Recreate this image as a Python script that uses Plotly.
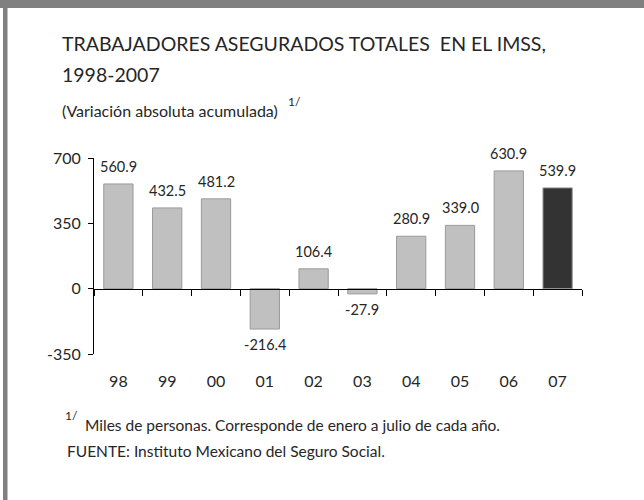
import plotly.graph_objects as go

categories = ["98", "99", "00", "01", "02", "03", "04", "05", "06", "07"]
values = [560.9, 432.5, 481.2, -216.4, 106.4, -27.9, 280.9, 339.0, 630.9, 539.9]
value_labels = ["560.9", "432.5", "481.2", "-216.4", "106.4", "-27.9", "280.9", "339.0", "630.9", "539.9"]
y_ticks = [-350, 0, 350, 700]

title_line1 = "TRABAJADORES ASEGURADOS TOTALES  EN EL IMSS,"
title_line2 = "1998-2007"
subtitle = "(Variación absoluta acumulada)"
note_mark = "1/"
footnote = "Miles de personas. Corresponde de enero a julio de cada año."
source = "FUENTE: Instituto Mexicano del Seguro Social."

W, H = 644, 500
L, R, T, B = 94, 62, 158, 146
pw, ph = W - L - R, H - T - B

def px(x):
    return (x - L) / pw

def py(y):
    return (H - B - y) / ph

FONT = "Lato"
TXT = "#262626"

colors = ["#c0c0c0"] * (len(categories) - 1) + ["#333333"]

fig = go.Figure()
fig.add_trace(go.Bar(
    x=categories, y=values,
    marker=dict(color=colors, line=dict(color="#9a9a9a", width=1)),
    width=0.6,
    hoverinfo="skip",
))
# invisible trace so the zero-line axis (x2) is drawn
fig.add_trace(go.Scatter(x=categories, y=[None] * len(categories), xaxis="x2", yaxis="y",
                         showlegend=False, hoverinfo="skip"))

annotations = []
for i, (v, lab) in enumerate(zip(values, value_labels)):
    annotations.append(dict(
        x=i, y=v, xref="x", yref="y", text=lab, showarrow=False,
        yanchor="bottom" if v >= 0 else "top",
        yshift=7 if v >= 0 else -5,
        font=dict(family=FONT, size=14.5, color=TXT),
    ))

def txt(x, y, text, size, anchor="middle"):
    return dict(x=px(x), y=py(y), xref="paper", yref="paper", text=text, showarrow=False,
                xanchor="left", yanchor=anchor,
                font=dict(family=FONT, size=size, color=TXT))

annotations += [
    txt(60, 44, title_line1, 19.5),
    txt(60, 75, title_line2, 19.5),
    txt(60, 110, subtitle, 16),
    txt(286, 102, note_mark, 12),
    txt(63, 415, note_mark, 12),
    txt(83, 425, footnote, 15.5),
    txt(65, 451, source, 15.5),
]

shapes = [
    dict(type="rect", xref="paper", yref="paper", x0=px(0), x1=px(W), y0=py(0), y1=py(8),
         fillcolor="#808080", line=dict(width=0), layer="above"),
    dict(type="rect", xref="paper", yref="paper", x0=px(3), x1=px(7.5), y0=py(0), y1=py(H),
         fillcolor="#808080", line=dict(width=0), layer="above"),
]

fig.update_layout(
    width=W, height=H,
    margin=dict(l=L, r=R, t=T, b=B, pad=0),
    paper_bgcolor="white", plot_bgcolor="white",
    showlegend=False,
    annotations=annotations,
    shapes=shapes,
    font=dict(family=FONT, color=TXT),
    xaxis=dict(
        type="category", categoryorder="array", categoryarray=categories,
        showline=False, ticks="", showgrid=False, zeroline=False,
        tickfont=dict(family=FONT, size=16, color=TXT), ticklabelstandoff=16,
        range=[-0.5, len(categories) - 0.5],
    ),
    xaxis2=dict(
        type="category", categoryorder="array", categoryarray=categories,
        overlaying="x", anchor="free", position=350 / 1050,
        showline=True, linecolor="#000000", linewidth=1,
        ticks="outside", ticklen=6, tickcolor="#000000", tickson="boundaries",
        showticklabels=False, showgrid=False, zeroline=False,
        range=[-0.5, len(categories) - 0.5],
    ),
    yaxis=dict(
        range=[-350, 700], tickvals=y_ticks, ticktext=[str(t) for t in y_ticks],
        showline=True, linecolor="#000000", linewidth=1,
        ticks="outside", ticklen=5, tickcolor="#000000",
        showgrid=False, zeroline=False, ticklabelstandoff=4,
        tickfont=dict(family=FONT, size=16, color=TXT),
    ),
)

fig.write_html("out.html", config={"displayModeBar": False},
               post_script="document.body.style.margin='0px';")
